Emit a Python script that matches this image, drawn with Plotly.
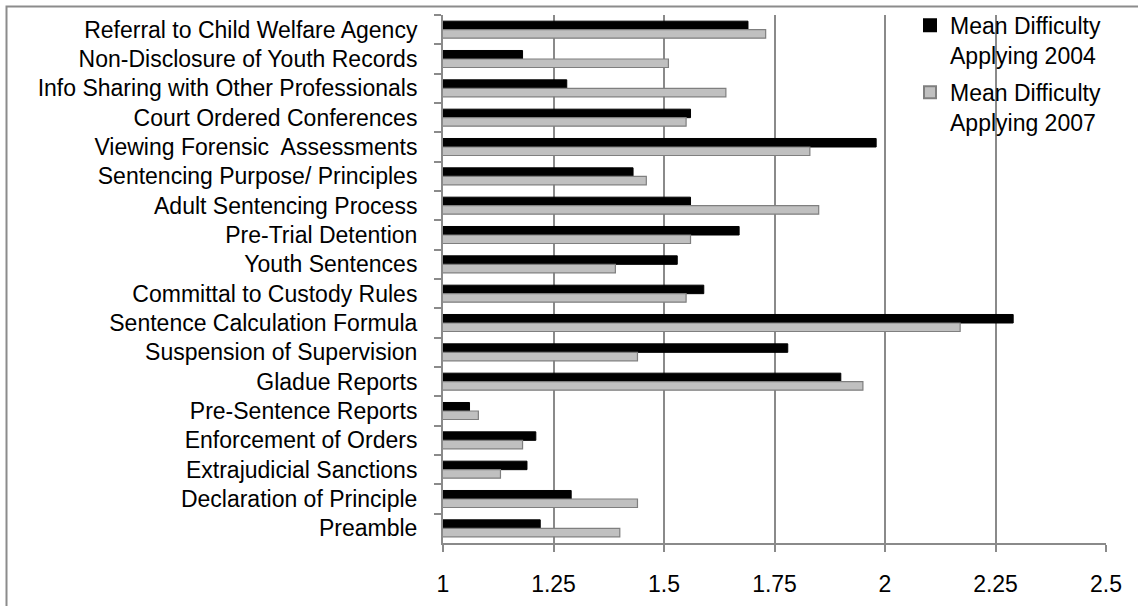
import plotly.graph_objects as go

categories = [
    "Referral to Child Welfare Agency",
    "Non-Disclosure of Youth Records",
    "Info Sharing with Other Professionals",
    "Court Ordered Conferences",
    "Viewing Forensic  Assessments",
    "Sentencing Purpose/ Principles",
    "Adult Sentencing Process",
    "Pre-Trial Detention",
    "Youth Sentences",
    "Committal to Custody Rules",
    "Sentence Calculation Formula",
    "Suspension of Supervision",
    "Gladue Reports",
    "Pre-Sentence Reports",
    "Enforcement of Orders",
    "Extrajudicial Sanctions",
    "Declaration of Principle",
    "Preamble",
]
mean_2004 = [1.69, 1.18, 1.28, 1.56, 1.98, 1.43, 1.56, 1.67, 1.53, 1.59,
             2.29, 1.78, 1.90, 1.06, 1.21, 1.19, 1.29, 1.22]
mean_2007 = [1.73, 1.51, 1.64, 1.55, 1.83, 1.46, 1.85, 1.56, 1.39, 1.55,
             2.17, 1.44, 1.95, 1.08, 1.18, 1.13, 1.44, 1.40]
series_names = ["Mean Difficulty<br>Applying 2004", "Mean Difficulty<br>Applying 2007"]
x_ticks = [1, 1.25, 1.5, 1.75, 2, 2.25, 2.5]

FONT = "Liberation Sans, Arial, sans-serif"
GRID = "#8a8a8a"

fig = go.Figure()
fig.add_trace(go.Bar(
    y=categories, x=mean_2004, orientation="h", name=series_names[0],
    legendgroup="a",
    marker=dict(color="#000000", line=dict(color="#000000", width=1)),
))
fig.add_trace(go.Bar(
    y=categories, x=mean_2007, orientation="h", name=series_names[1],
    legendgroup="b",
    marker=dict(color="#c0c0c0", line=dict(color="#7f7f7f", width=1.2)),
))

fig.update_layout(
    width=1138, height=606,
    margin=dict(l=443, r=32, t=15, b=63, autoexpand=False),
    paper_bgcolor="white", plot_bgcolor="white",
    barmode="group", bargap=0.42, bargroupgap=0,
    font=dict(family=FONT, size=23, color="#000000"),
    showlegend=True,
    legend=dict(
        x=1.0, xanchor="right", y=1.021, yanchor="top",
        bgcolor="rgba(0,0,0,0)", borderwidth=0,
        font=dict(family=FONT, size=23, color="#000000"),
        valign="top", traceorder="grouped", tracegroupgap=4,
        itemsizing="constant",
    ),
    xaxis=dict(
        range=[1, 2.5], tickvals=x_ticks, ticktext=[str(v) for v in x_ticks],
        showgrid=True, gridcolor=GRID, gridwidth=1.5,
        showline=True, linecolor=GRID, linewidth=2,
        ticks="outside", ticklen=7, tickcolor=GRID, tickwidth=2,
        ticklabelstandoff=12, zeroline=False,
    ),
    yaxis=dict(
        type="category", autorange="reversed",
        showgrid=False, showline=True, linecolor=GRID, linewidth=2,
        ticks="outside", ticklen=7, tickcolor=GRID, tickwidth=2,
        tickson="boundaries", ticklabelstandoff=19,
    ),
    shapes=[dict(
        type="rect", xref="paper", yref="paper",
        x0=(6.5 - 443) / 663, x1=2.0, y0=-1.0, y1=(543 - 6.5) / 528,
        line=dict(color="#8c8c8c", width=2), fillcolor="rgba(0,0,0,0)",
        layer="below",
    )],
)

fig.write_html("out.html")
